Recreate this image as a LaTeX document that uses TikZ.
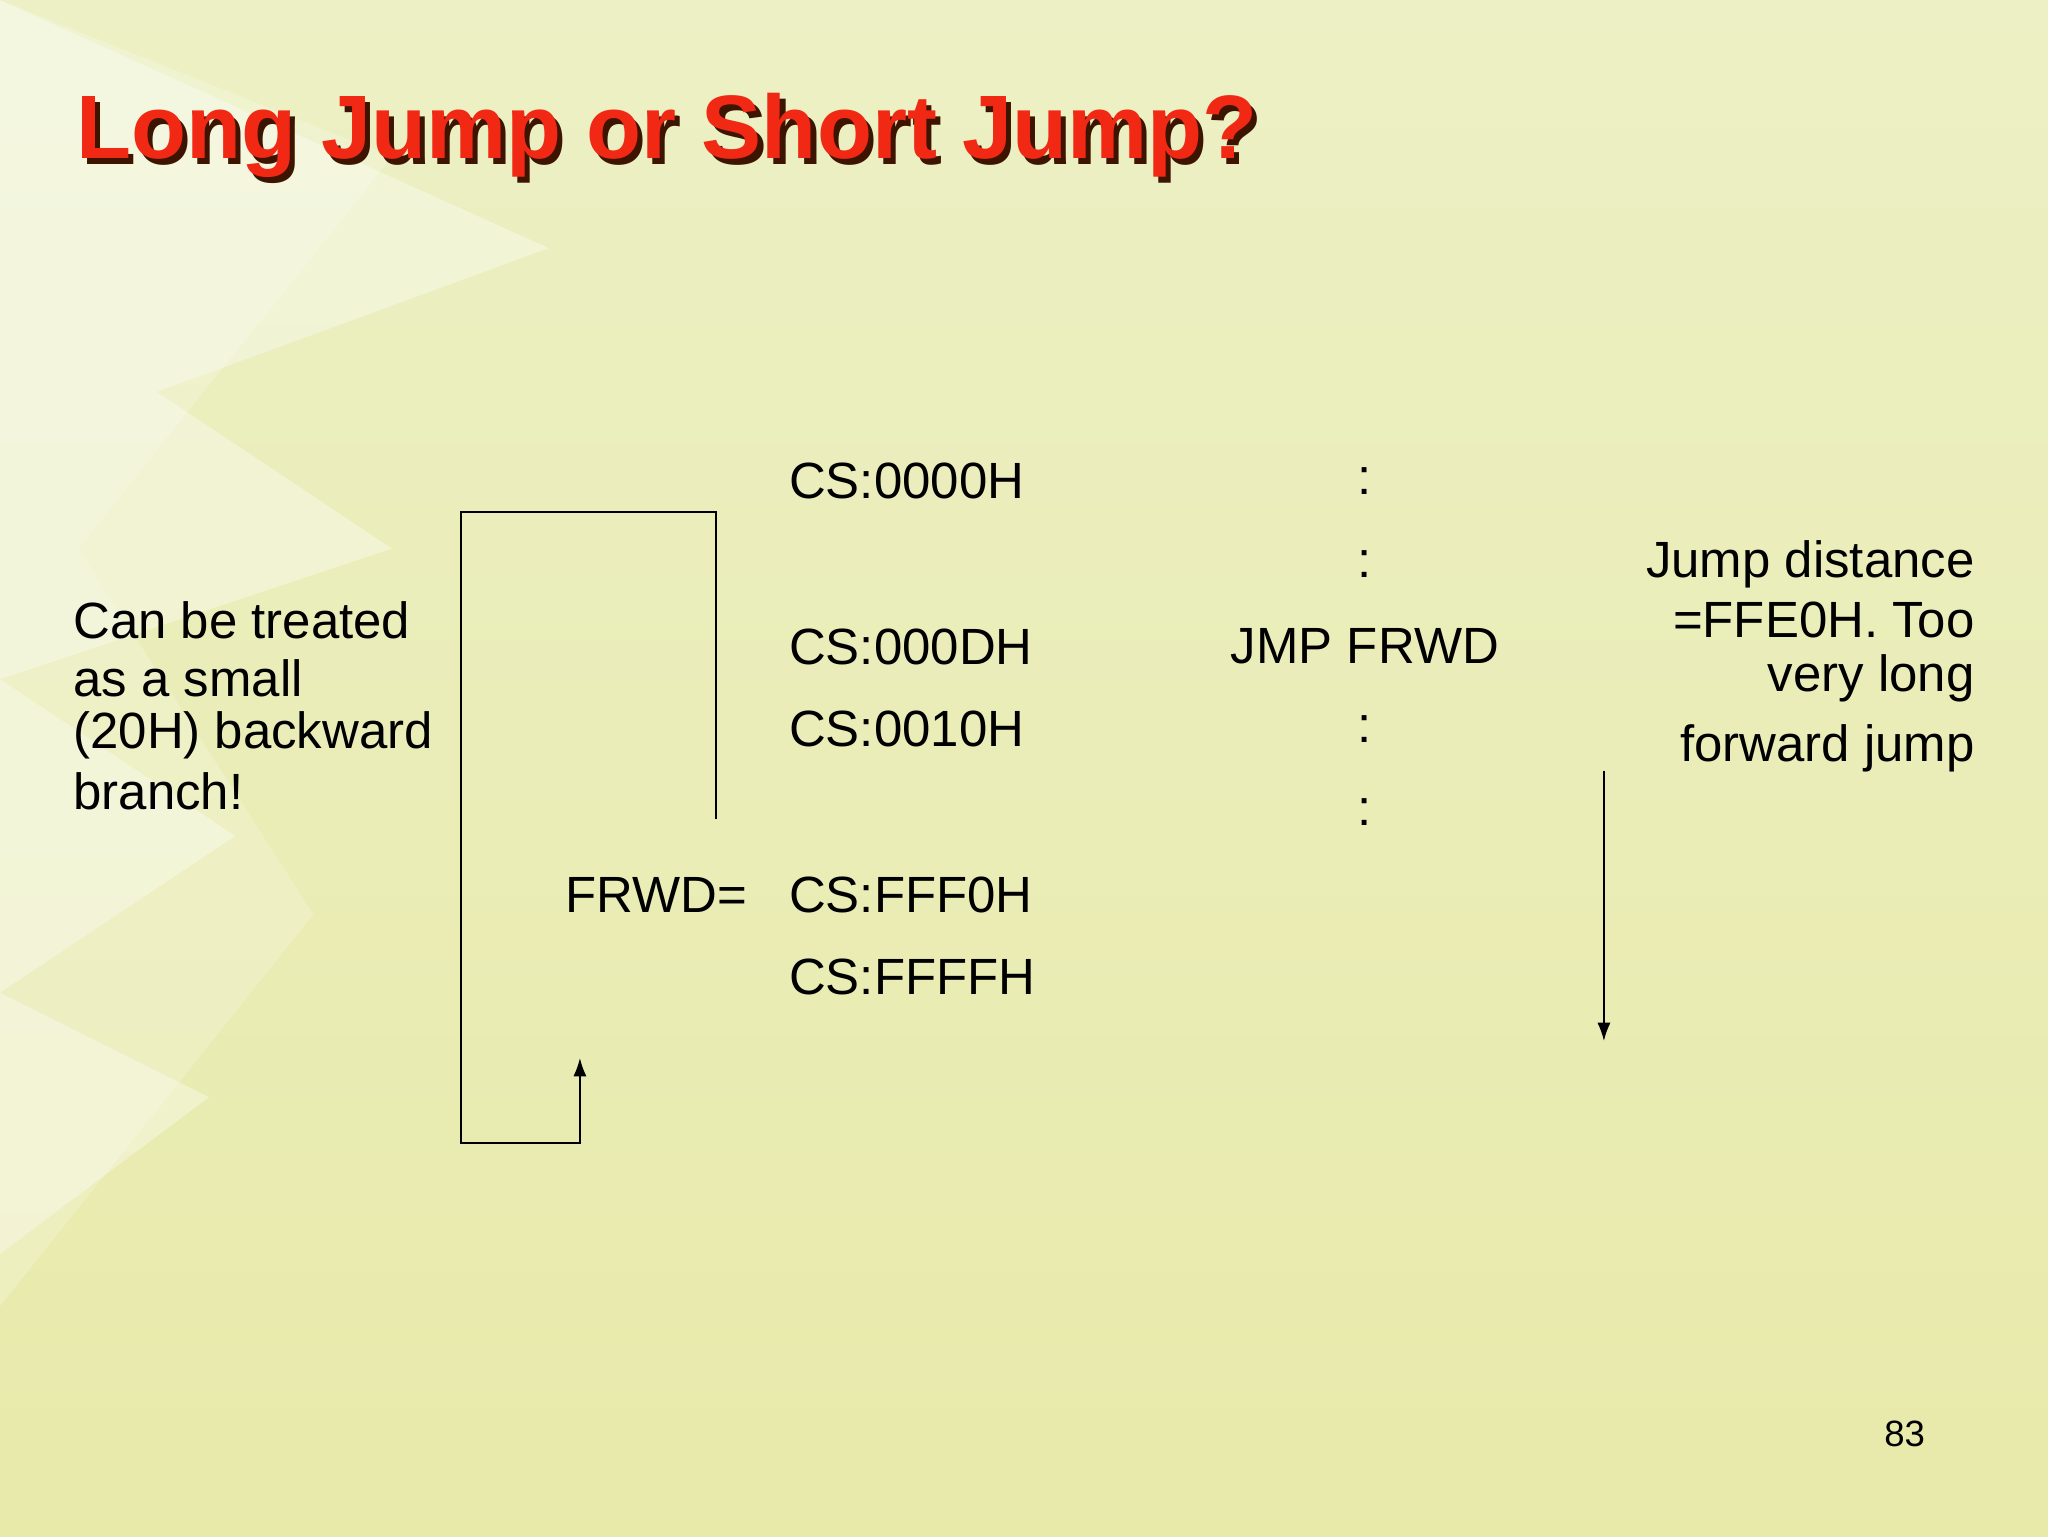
\documentclass[tikz,border=0pt]{standalone}
\usepackage{fontspec}
\usetikzlibrary{arrows.meta}
\setmainfont{Liberation Sans}
\begin{document}
\begin{tikzpicture}[x=1pt,y=-1pt,
  txt/.style={font=\fontsize{39}{44}\selectfont,inner sep=0pt},
  ln/.style={line width=1.3pt},
  arr/.style={ln,-{Latex[length=14pt,width=10pt]}}]
\useasboundingbox (0,0) rectangle (1568,1176);
\shade[top color={rgb,255:red,236;green,240;blue,196},bottom color={rgb,255:red,232;green,234;blue,170}] (0,0) rectangle (1568,1176);
\fill[white,opacity=0.35] (0,0) -- (420,190) -- (120,300) -- (300,420) -- (0,520) -- (180,640) -- (0,760) -- (160,840) -- (0,960) -- cycle;
\fill[white,opacity=0.2] (0,0) -- (300,120) -- (60,420) -- (240,700) -- (0,1000) -- cycle;
% title with shadow
\node[anchor=west,inner sep=0pt,font=\fontsize{69}{76}\selectfont\bfseries,text={rgb,255:red,60;green,20;blue,0}] (shadow) at (62,108) {Long Jump or Short Jump?};
\node[anchor=west,inner sep=0pt,font=\fontsize{69}{76}\selectfont\bfseries,text={rgb,255:red,240;green,40;blue,20}] (title) at (58,104) {Long Jump or Short Jump?};
% addresses
\node[txt,anchor=west] (a0) at (604,368) {CS:0000H};
\node[txt,anchor=west] (a1) at (604,495) {CS:000DH};
\node[txt,anchor=west] (a2) at (604,558) {CS:0010H};
\node[txt,anchor=west] (a3) at (604,685) {CS:FFF0H};
\node[txt,anchor=west] (a4) at (604,748) {CS:FFFFH};
\node[txt,anchor=east] (fr) at (572,685) {FRWD=};
\node[txt] (c1) at (1045,368) {:};
\node[txt] (c2) at (1045,432) {:};
\node[txt] (jmp) at (1045,495) {JMP FRWD};
\node[txt] (c3) at (1045,558) {:};
\node[txt] (c4) at (1045,622) {:};
% left text
\node[txt,anchor=west] (l1) at (56,475) {Can be treated};
\node[txt,anchor=west] (l2) at (56,519) {as a small};
\node[txt,anchor=west] (l3) at (56,563) {(20H) backward};
\node[txt,anchor=west] (l4) at (56,606) {branch!};
% right text
\node[txt,anchor=east] (r1) at (1512,432) {Jump distance};
\node[txt,anchor=east] (r2) at (1512,475) {=FFE0H. Too};
\node[txt,anchor=east] (r3) at (1512,519) {very long\ };
\node[txt,anchor=east] (r4) at (1512,573) {forward jump};
\node[anchor=east,inner sep=0pt,font=\fontsize{28}{32}\selectfont] (pg) at (1474,1098) {83};
% connectors
\coordinate (p0) at (548,627);
\coordinate (p1) at (444,810);
\draw[arr] (p0) -- (548,392) -- (353,392) -- (353,875) -- (444,875) -- (p1);
\coordinate (q0) at (1228,590);
\coordinate (q1) at (1228,797);
\draw[arr] (q0) -- (q1);
\end{tikzpicture}
\end{document}
